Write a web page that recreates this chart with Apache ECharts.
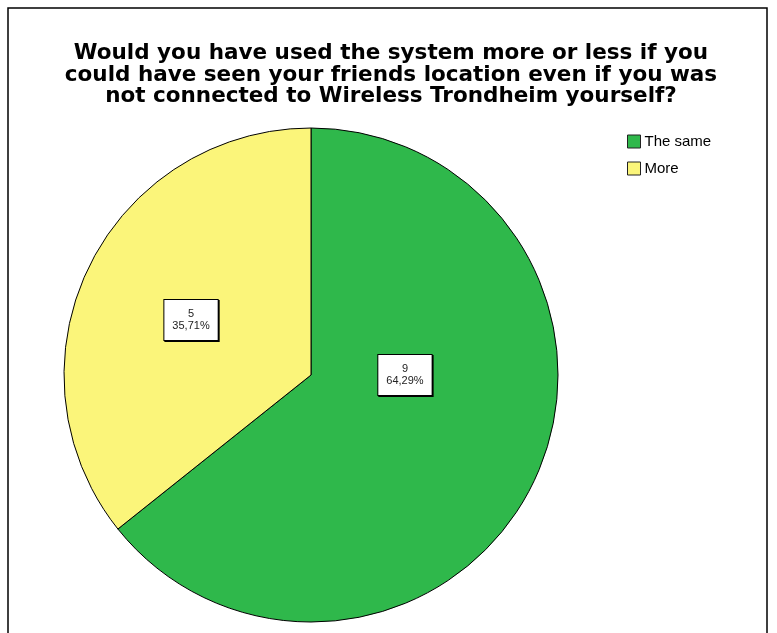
<!DOCTYPE html>
<html>
<head>
<meta charset="utf-8">
<script src="https://cdn.jsdelivr.net/npm/echarts@6/dist/echarts.min.js"></script>
<style>
  html, body { margin: 0; padding: 0; background: #fff; }
  #chart { width: 777px; height: 633px; }
</style>
</head>
<body>
<div id="chart"></div>
<script>
var titleText = 'Would you have used the system more or less if you\ncould have seen your friends location even if you was\nnot connected to Wireless Trondheim yourself?';
var categories = ['The same', 'More'];
var counts = [9, 5];
var colors = ['#2fb84b', '#fbf57a'];
// label nudges, SPSS does not put them at the slice middle
var labelOffsets = [[-20, -55], [-6, 0]];

var chart = echarts.init(document.getElementById('chart'));

var pieData = categories.map(function (name, i) {
  return {
    name: name,
    value: counts[i],
    itemStyle: { color: colors[i] },
    label: { offset: labelOffsets[i] }
  };
});

chart.setOption({
  animation: false,
  title: {
    text: titleText,
    left: 386,
    textAlign: 'center',
    top: 38,
    textStyle: {
      fontFamily: 'DejaVu Sans, Verdana, sans-serif',
      fontWeight: 'bold',
      fontSize: 21.5,
      lineHeight: 21.5,
      color: '#000'
    }
  },
  legend: {
    orient: 'vertical',
    left: 627,
    top: 134,
    padding: 0,
    icon: 'rect',
    itemWidth: 13,
    itemHeight: 13,
    itemGap: 12,
    itemStyle: { borderColor: '#222', borderWidth: 1 },
    textStyle: {
      fontFamily: 'Liberation Sans, Arial, sans-serif',
      fontSize: 15,
      color: '#000',
      padding: [0, 0, 0, -1]
    },
    data: categories
  },
  graphic: [{
    type: 'rect',
    shape: { x: 8, y: 8, width: 759, height: 640 },
    style: { fill: 'none', stroke: '#000', lineWidth: 1.5 },
    silent: true
  }],
  series: [{
    type: 'pie',
    center: [311, 375],
    radius: 247,
    startAngle: 90,
    clockwise: true,
    itemStyle: { borderColor: '#000', borderWidth: 1 },
    emphasis: { disabled: true },
    labelLine: { show: false },
    label: {
      position: 'inside',
      formatter: function (p) {
        return p.value + '\n' + p.percent.toFixed(2).replace('.', ',') + '%';
      },
      fontFamily: 'Liberation Sans, Arial, sans-serif',
      fontSize: 11,
      lineHeight: 12,
      color: '#222',
      backgroundColor: '#fff',
      borderColor: '#000',
      borderWidth: 1,
      padding: [8, 8],
      shadowColor: '#000',
      shadowOffsetX: 1,
      shadowOffsetY: 1,
      shadowBlur: 0
    },
    data: pieData
  }]
});
</script>
</body>
</html>
